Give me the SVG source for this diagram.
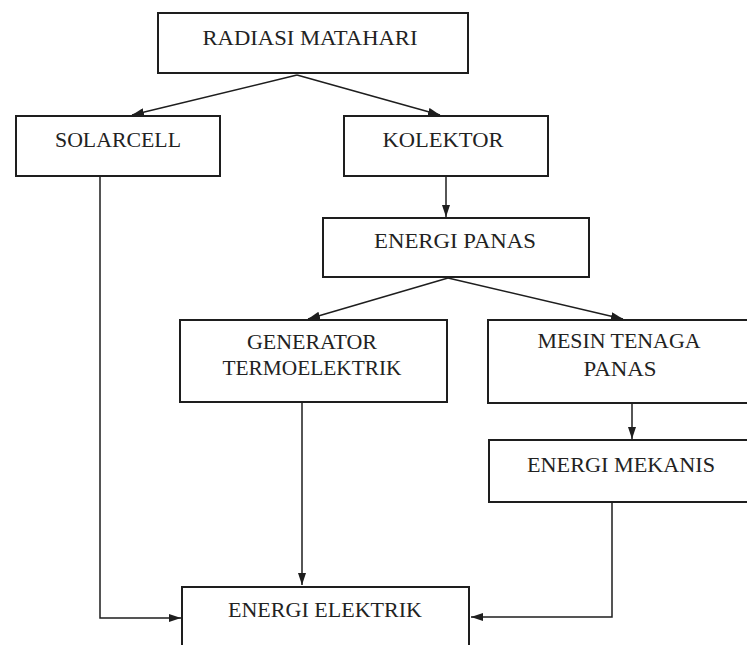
<svg xmlns="http://www.w3.org/2000/svg" width="747" height="645" viewBox="0 0 747 645">
<style>
.box{fill:#fff;stroke:#1e1e1e;stroke-width:2}
.lbl{font-family:"Liberation Serif","Times New Roman",serif;font-size:21px;fill:#222;text-anchor:middle}
.con{fill:none;stroke:#1e1e1e;stroke-width:1.5}
</style>
<defs>
<marker id="ah" viewBox="0 0 12 8" refX="12" refY="4" markerWidth="12" markerHeight="8" markerUnits="userSpaceOnUse" orient="auto">
<path d="M0,0 L12,4 L0,8 Z" fill="#1e1e1e"/>
</marker>
</defs>
<rect width="747" height="645" fill="#fff"/>
<g id="connectors">
<line class="con" x1="297" y1="75" x2="132" y2="115" marker-end="url(#ah)"/>
<line class="con" x1="297" y1="75" x2="440" y2="115" marker-end="url(#ah)"/>
<line class="con" x1="446" y1="177" x2="446" y2="217" marker-end="url(#ah)"/>
<line class="con" x1="448" y1="278" x2="308" y2="319" marker-end="url(#ah)"/>
<line class="con" x1="448" y1="278" x2="623" y2="319" marker-end="url(#ah)"/>
<line class="con" x1="632" y1="404" x2="632" y2="439" marker-end="url(#ah)"/>
<line class="con" x1="302" y1="403" x2="302" y2="585" marker-end="url(#ah)"/>
<polyline class="con" points="100,177 100,618 181,618" marker-end="url(#ah)"/>
<polyline class="con" points="612,503 612,617 471,617" marker-end="url(#ah)"/>
</g>
<g id="radiasi">
<rect class="box" x="158" y="13" width="310" height="60"/>
<text class="lbl" x="310" y="45" textLength="215" lengthAdjust="spacingAndGlyphs">RADIASI MATAHARI</text>
</g>
<g id="solarcell">
<rect class="box" x="16" y="116" width="204" height="60"/>
<text class="lbl" x="118" y="147" textLength="126" lengthAdjust="spacingAndGlyphs">SOLARCELL</text>
</g>
<g id="kolektor">
<rect class="box" x="344" y="116" width="204" height="60"/>
<text class="lbl" x="443" y="147" textLength="121" lengthAdjust="spacingAndGlyphs">KOLEKTOR</text>
</g>
<g id="energi-panas">
<rect class="box" x="323" y="218" width="266" height="59"/>
<text class="lbl" x="455" y="248" textLength="162" lengthAdjust="spacingAndGlyphs">ENERGI PANAS</text>
</g>
<g id="generator">
<rect class="box" x="180" y="320" width="267" height="82"/>
<text class="lbl" x="312" y="349" textLength="130" lengthAdjust="spacingAndGlyphs">GENERATOR</text>
<text class="lbl" x="312" y="375" textLength="179" lengthAdjust="spacingAndGlyphs">TERMOELEKTRIK</text>
</g>
<g id="mesin">
<rect class="box" x="488" y="320" width="270" height="83"/>
<text class="lbl" x="619" y="348" textLength="163" lengthAdjust="spacingAndGlyphs">MESIN TENAGA</text>
<text class="lbl" x="620" y="376" textLength="73" lengthAdjust="spacingAndGlyphs">PANAS</text>
</g>
<g id="energi-mekanis">
<rect class="box" x="489" y="440" width="270" height="62"/>
<text class="lbl" x="621" y="472" textLength="188" lengthAdjust="spacingAndGlyphs">ENERGI MEKANIS</text>
</g>
<g id="energi-elektrik">
<rect class="box" x="182" y="587" width="287" height="70"/>
<text class="lbl" x="325" y="617" textLength="194" lengthAdjust="spacingAndGlyphs">ENERGI ELEKTRIK</text>
</g>
</svg>
